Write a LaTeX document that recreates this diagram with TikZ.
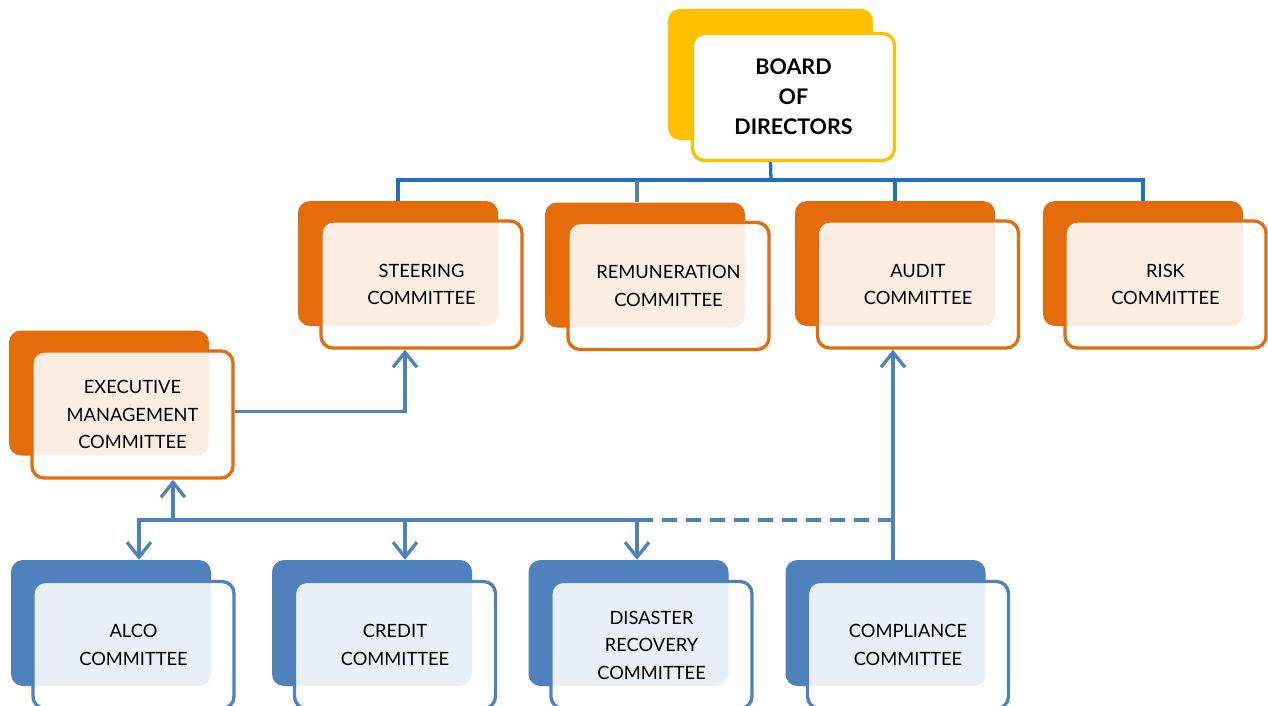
\documentclass[tikz,border=0pt]{standalone}
\usepackage{fontspec}
\setmainfont{Lato}
\usepackage{tikz}
\usetikzlibrary{arrows.meta}
\definecolor{gold}{HTML}{FFC000}
\definecolor{rust}{HTML}{E46C0A}
\definecolor{steel}{HTML}{4F81BD}
\definecolor{treeblue}{HTML}{1F70C1}
\tikzstyle{box}=[shape=rectangle, rounded corners=12pt, inner sep=0pt]
\tikzstyle{gold back}=[box, fill=gold, minimum width=205pt, minimum height=131pt]
\tikzstyle{gold front}=[box, fill=white, draw=gold, line width=3.3pt, minimum width=202pt, minimum height=127pt, align=center, font=\fontsize{21.5}{30}\selectfont\bfseries]
\tikzstyle{orange back}=[box, fill=rust, minimum width=200pt, minimum height=125pt]
\tikzstyle{orange front}=[box, fill=white, fill opacity=0.88, text opacity=1, draw=rust, line width=3.3pt, minimum width=201pt, minimum height=127pt, align=center, font=\fontsize{18.3}{27.5}\selectfont]
\tikzstyle{blue back}=[box, fill=steel, minimum width=200pt, minimum height=126pt]
\tikzstyle{blue front}=[box, fill=white, fill opacity=0.88, text opacity=1, draw=steel, line width=3.3pt, minimum width=201pt, minimum height=127pt, align=center, font=\fontsize{18.3}{27.5}\selectfont]
\tikzstyle{tree edge}=[-, draw=treeblue, line width=3.3pt]
\tikzstyle{blue edge}=[-, draw=steel, line width=3.3pt]
\tikzstyle{blue arrow}=[-{Straight Barb[length=15pt,width=24pt]}, draw=steel, line width=3.3pt]
\tikzstyle{blue dashed}=[-, draw=steel, line width=3.3pt, dash pattern=on 15pt off 9pt]
\pgfdeclarelayer{nodelayer}
\pgfdeclarelayer{edgelayer}
\pgfsetlayers{main,nodelayer,edgelayer}

\begin{document}
\begin{tikzpicture}[x=1pt, y=-1pt]
	\useasboundingbox (0,0) rectangle (1268,706);
	\begin{pgfonlayer}{nodelayer}
		% board
		\node [style=gold back] (0) at (770.5, 74.5) {};
		\node [style=gold front] (1) at (793.5, 97) {BOARD\\OF\\DIRECTORS};
		% committees under the board
		\node [style=orange back] (2) at (398, 263.5) {};
		\node [style=orange front] (3) at (421.5, 284.5) {STEERING\\COMMITTEE};
		\node [style=orange back] (4) at (645, 265) {};
		\node [style=orange front] (5) at (668.5, 286) {REMUNERATION\\COMMITTEE};
		\node [style=orange back] (6) at (895, 263.5) {};
		\node [style=orange front] (7) at (918, 284.5) {AUDIT\\COMMITTEE};
		\node [style=orange back] (8) at (1143, 263.5) {};
		\node [style=orange front] (9) at (1165.5, 284.5) {RISK\\COMMITTEE};
		\node [style=orange back] (10) at (109, 393) {};
		\node [style=orange front] (11) at (132.5, 414.5) {EXECUTIVE\\MANAGEMENT\\COMMITTEE};
		% management committees
		\node [style=blue back] (12) at (111, 623) {};
		\node [style=blue front] (13) at (133.5, 645) {ALCO\\COMMITTEE};
		\node [style=blue back] (14) at (372, 623) {};
		\node [style=blue front] (15) at (395, 645) {CREDIT\\COMMITTEE};
		\node [style=blue back] (16) at (628.5, 623) {};
		\node [style=blue front] (17) at (651.5, 645) {DISASTER\\RECOVERY\\COMMITTEE};
		\node [style=blue back] (18) at (885.5, 623) {};
		\node [style=blue front] (19) at (908, 645) {COMPLIANCE\\COMMITTEE};
	\end{pgfonlayer}
	\begin{pgfonlayer}{edgelayer}
		\coordinate (t) at (771, 180);
		\coordinate (a) at (139, 520);
		\coordinate (e) at (173, 520);
		\coordinate (d1) at (405, 520);
		\coordinate (d2) at (637, 520);
		\coordinate (b) at (652, 520);
		\coordinate (c) at (893, 520);
		% board tree
		\draw [style=tree edge] (0.south |- 1.south) -- (t);
		\draw [style=tree edge] (2.north) |- (8.north |- t) -- (8.north);
		\draw [style=blue edge] ([xshift=-8pt]4.north |- t) -- ([xshift=-8pt]4.north);
		\draw [style=tree edge] (6.north |- t) -- (6.north);
		% reporting lines
		\draw [style=blue arrow] ([yshift=3pt]11.east) -| ([xshift=-16.5pt]3.south);
		\draw [style=blue arrow] (e) -- (e |- 11.south);
		\draw [style=blue arrow] (b) -- (a) -- (a |- 12.north);
		\draw [style=blue arrow] (d1) -- (d1 |- 14.north);
		\draw [style=blue arrow] (d2) -- (d2 |- 16.north);
		\draw [style=blue dashed] (c) -- (b);
		\draw [style=blue arrow] (c |- 18.north) -- (c |- 7.south);
	\end{pgfonlayer}
\end{tikzpicture}
\end{document}
